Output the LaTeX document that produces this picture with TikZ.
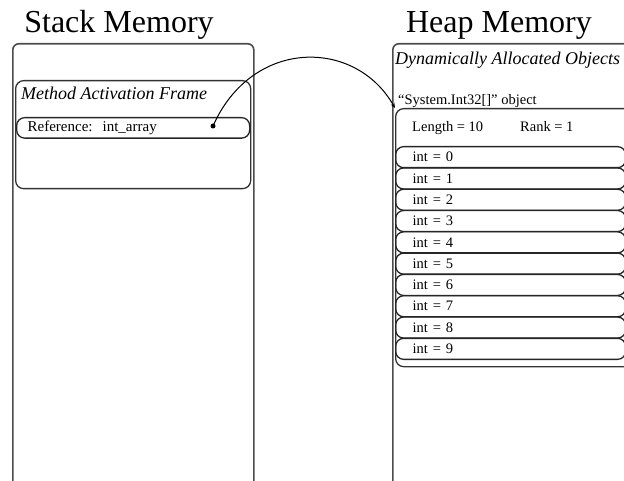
\documentclass[tikz,border=0pt]{standalone}
\usepackage{fontspec}
\setmainfont{Liberation Serif}
\usetikzlibrary{arrows.meta}

\begin{document}
\begin{tikzpicture}[x=1pt, y=-1pt,
    membox/.style={draw=black!70, line width=1.6pt, rounded corners=6pt, anchor=north west, inner sep=0pt},
    framebox/.style={draw=black!80, line width=1.3pt, rounded corners=8pt, anchor=north west, inner sep=0pt},
    cell/.style={draw=black!85, line width=1.3pt, rounded corners=8pt, anchor=north west, minimum height=21pt, text width=196pt, inner xsep=17pt, align=left, font=\fontsize{14.5}{16}\selectfont},
    title/.style={font=\fontsize{32}{36}\selectfont, anchor=base},
    txt/.style={font=\fontsize{14.5}{16}\selectfont, anchor=base west, inner sep=0pt},
    head/.style={font=\fontsize{18}{20}\selectfont\itshape, anchor=base west, inner sep=0pt}]
    \useasboundingbox (0,0) rectangle (624,481);
    \clip (0,0) rectangle (624,481);
    \node[title] (stacktitle) at (119,33) {Stack Memory};
    \node[title] (heaptitle) at (499,33) {Heap Memory};
    \node[membox, minimum width=241pt, minimum height=480pt] (stack) at (12,43) {};
    \node[framebox, minimum width=235pt, minimum height=108pt] (frame) at (15,80) {};
    \node[head] (frametext) at (21,100) {Method Activation Frame};
    \node[cell, text width=211pt, inner xsep=11pt, minimum height=19pt, font=\fontsize{15}{16}\selectfont] (ref) at (16,117) {Reference:\ \ int\_array};
    \coordinate (refdot) at (213,126);
    \fill (refdot) circle (2.5pt);
    \node[membox, minimum width=260pt, minimum height=480pt] (heap) at (392,43) {};
    \node[head] (heaptext) at (395,65) {Dynamically Allocated Objects};
    \node[txt] (objtext) at (398,105) {``System.Int32[]'' object};
    \node[framebox, minimum width=240pt, minimum height=258pt] (arr) at (395,108) {};
    \node[txt] (len) at (412,132) {Length = 10};
    \node[txt] (rank) at (520,132) {Rank = 1};
    \foreach \i in {0,...,9}
        \node[cell] (int\i) at (395,{146+21.3*\i}) {int = \i};
    \draw[-{Stealth[length=5pt,width=4pt]}, line width=1pt] (refdot) .. controls (252,38) and (355,38) .. (arr.north west);
\end{tikzpicture}
\end{document}
